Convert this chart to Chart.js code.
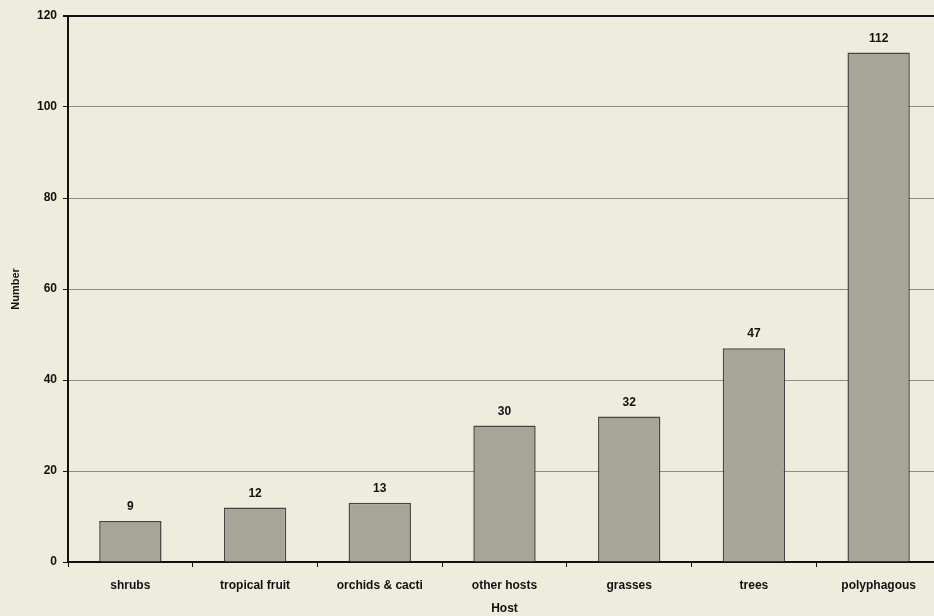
<!DOCTYPE html>
<html>
<head>
<meta charset="utf-8">
<script src="https://cdn.jsdelivr.net/npm/chart.js@4"></script>
<style>
  html, body { margin: 0; padding: 0; overflow: hidden; background: #eeecdc; }
  #wrap { width: 941px; height: 616px; }
</style>
</head>
<body>
<div id="wrap"><canvas id="chart" width="941" height="616"></canvas></div>
<script>
const hosts = ['shrubs', 'tropical fruit', 'orchids & cacti', 'other hosts', 'grasses', 'trees', 'polyphagous'];
const counts = [9, 12, 13, 30, 32, 47, 112];
const yTicks = [0, 20, 40, 60, 80, 100, 120];

// numbers above the bars
const barLabels = {
  id: 'barLabels',
  afterDatasetsDraw(chart) {
    const ctx = chart.ctx;
    const meta = chart.getDatasetMeta(0);
    ctx.save();
    ctx.font = 'bold 12px "Liberation Sans", Arial, sans-serif';
    ctx.fillStyle = '#111';
    ctx.textAlign = 'center';
    ctx.textBaseline = 'bottom';
    meta.data.forEach((bar, i) => {
      ctx.fillText(counts[i], bar.x, bar.y - 8);
    });
    ctx.restore();
  }
};

Chart.defaults.font.family = '"Liberation Sans", Arial, sans-serif';
Chart.defaults.font.weight = 'bold';
Chart.defaults.font.size = 12;
Chart.defaults.color = '#111';

new Chart(document.getElementById('chart'), {
  type: 'bar',
  data: {
    labels: hosts,
    datasets: [{
      data: counts,
      backgroundColor: '#a6a598',
      borderColor: '#454545',
      borderWidth: 1.5,
      barPercentage: 0.5,
      categoryPercentage: 1.0
    }]
  },
  options: {
    responsive: false,
    animation: false,
    devicePixelRatio: 1,
    layout: { padding: { top: 16, right: 0, bottom: 0, left: 0 } },
    plugins: {
      legend: { display: false },
      tooltip: { enabled: false }
    },
    scales: {
      x: {
        grid: {
          offset: true,
          drawOnChartArea: false,
          drawTicks: true,
          tickLength: 5,
          color: '#111'
        },
        border: { color: '#111', width: 2 },
        ticks: { padding: 11, font: { size: 12, weight: 'bold' }, maxRotation: 0 },
        title: {
          display: true,
          text: 'Host',
          font: { size: 12, weight: 'bold' },
          padding: { top: 8, bottom: 0 }
        },
        afterFit(scale) { scale.height = 54; }
      },
      y: {
        min: 0,
        max: 120,
        afterBuildTicks(scale) { scale.ticks = yTicks.map(v => ({ value: v })); },
        grid: {
          color: ctx => (ctx.tick && ctx.tick.value === 120) ? '#111' : '#8c8c86',
          lineWidth: ctx => (ctx.tick && ctx.tick.value === 120) ? 2 : 1,
          tickColor: '#111',
          tickLength: 5
        },
        border: { color: '#111', width: 2 },
        ticks: { padding: 6, font: { size: 12, weight: 'bold' } },
        title: {
          display: true,
          text: 'Number',
          font: { size: 11, weight: 'bold' },
          padding: { top: 9, bottom: 4 }
        },
        afterFit(scale) { scale.width = 68; }
      }
    }
  },
  plugins: [barLabels]
});
</script>
</body>
</html>
